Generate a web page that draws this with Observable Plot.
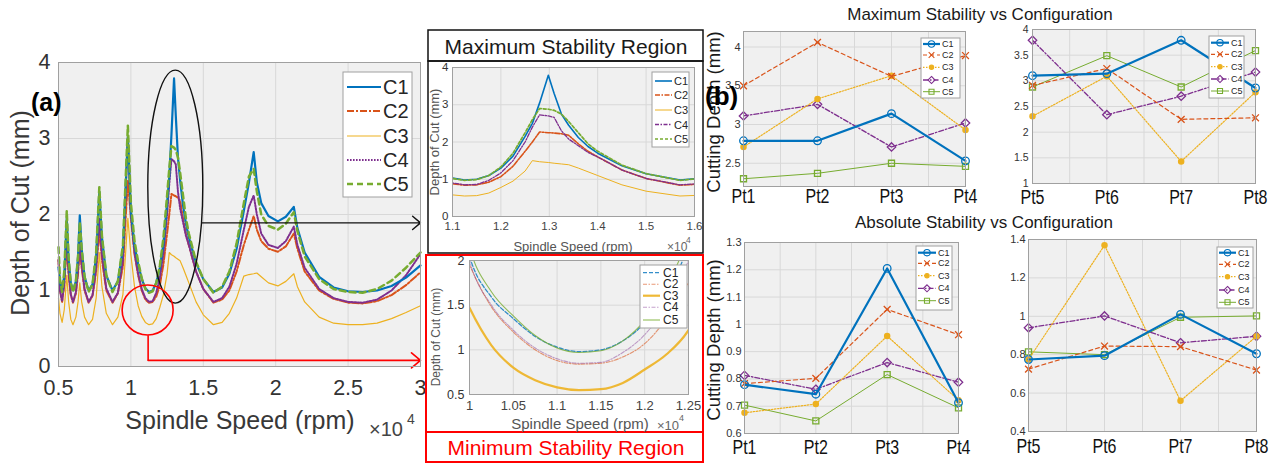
<!DOCTYPE html>
<html><head><meta charset="utf-8">
<script src="https://cdn.jsdelivr.net/npm/d3@7"></script>
<script src="https://cdn.jsdelivr.net/npm/@observablehq/plot@0.6"></script>
<style>
body{margin:0;background:#fff;}
#root{position:relative;width:1276px;height:466px;overflow:hidden;background:#fff;}
</style></head><body><div id="root"></div>
<script>
// ---------- DATA ----------
const configs = ["C1","C2","C3","C4","C5"];
const colors = ["#0072BD","#D95319","#EDB120","#7E2F8E","#77AC30"];
// spindle speed (rpm)
const spindleSpeed = [5000,5100,5250,5400,5570,5700,5850,6000,6200,6350,6470,6600,6800,7080,7350,7600,7820,8000,8300,8730,9100,9450,9790,10000,10250,10500,10750,11000,11250,11500,11750,12000,12250,12500,12650,12800,12980,13100,13250,13400,13600,13800,14000,14500,15000,15700,16300,16800,17300,17800,18150,18480,18700,19000,19500,20150,20700,21250,21500,22000,23000,24000,25000,26000,27000,28000,29000,30000];
// depth of cut (mm)
const depthC1 = [1.3,1.12,1.0,1.2,1.95,1.4,1.1,1.0,1.12,1.45,1.99,1.55,1.18,1.0,1.08,1.45,2.3,1.7,1.2,1.0,1.12,1.55,3.02,2.05,1.59,1.35,1.15,1.03,0.98,1.0,1.1,1.3,1.62,2.15,2.5,3.05,3.79,3.3,2.75,2.45,2.12,1.88,1.7,1.36,1.15,0.98,1.04,1.22,1.55,2.05,2.42,2.82,2.42,2.15,1.98,1.91,1.97,2.1,1.82,1.5,1.18,1.04,0.99,0.98,1.0,1.06,1.17,1.33];
const depthC2 = [1.4,1.0,0.85,1.08,1.6,1.2,0.94,0.84,0.96,1.22,1.55,1.3,1.0,0.84,0.93,1.25,1.8,1.4,1.0,0.84,0.96,1.32,2.45,1.95,1.48,1.2,1.0,0.88,0.84,0.85,0.92,1.07,1.35,1.75,2.0,2.27,2.25,2.24,2.22,2.18,1.95,1.75,1.6,1.25,1.02,0.84,0.88,1.0,1.25,1.6,1.8,1.98,1.8,1.65,1.55,1.51,1.58,1.75,1.55,1.25,1.0,0.89,0.84,0.83,0.86,0.94,1.07,1.24];
const depthC3 = [0.9,0.7,0.58,0.75,1.2,0.85,0.62,0.55,0.65,0.85,1.1,0.85,0.65,0.55,0.62,0.9,1.5,1.05,0.7,0.55,0.65,0.95,1.95,1.47,1.05,0.8,0.66,0.58,0.55,0.56,0.63,0.78,0.95,1.22,1.5,1.47,1.45,1.43,1.41,1.39,1.3,1.2,1.1,0.85,0.68,0.55,0.58,0.7,0.9,1.19,1.21,1.22,1.23,1.18,1.1,1.06,1.12,1.22,1.05,0.85,0.65,0.57,0.55,0.55,0.57,0.63,0.71,0.8];
const depthC4 = [1.4,1.0,0.86,1.1,1.75,1.25,0.95,0.85,0.98,1.28,1.65,1.35,1.02,0.85,0.94,1.3,1.95,1.48,1.03,0.85,0.97,1.4,3.02,2.0,1.5,1.22,1.02,0.9,0.85,0.86,0.97,1.17,1.5,2.0,2.4,2.73,2.7,2.66,2.3,2.08,1.9,1.72,1.6,1.25,1.02,0.85,0.9,1.05,1.35,1.8,2.1,2.25,2.0,1.75,1.6,1.56,1.65,1.84,1.6,1.3,1.02,0.9,0.85,0.84,0.88,1.0,1.2,1.48];
const depthC5 = [1.57,1.15,0.98,1.25,2.05,1.42,1.1,0.98,1.12,1.45,1.9,1.55,1.18,0.98,1.08,1.5,2.36,1.72,1.2,0.98,1.12,1.6,3.17,2.15,1.65,1.38,1.16,1.02,0.97,0.99,1.1,1.33,1.7,2.25,2.6,2.9,2.88,2.85,2.75,2.55,2.25,1.95,1.75,1.38,1.15,0.97,1.05,1.25,1.62,2.15,2.5,2.6,2.3,2.0,1.85,1.8,1.88,2.03,1.78,1.45,1.15,1.02,0.98,0.97,1.02,1.13,1.3,1.5];

// panel (b) categories
const pointsA = ["Pt1","Pt2","Pt3","Pt4"];
const pointsB = ["Pt5","Pt6","Pt7","Pt8"];
// Maximum stability (mm)
const maxA_C1 = [2.79,2.79,3.14,2.53];
const maxA_C2 = [3.50,4.06,3.62,3.89];
const maxA_C3 = [2.71,3.33,3.63,2.93];
const maxA_C4 = [3.11,3.26,2.71,3.02];
const maxA_C5 = [2.30,2.37,2.50,2.46];
const maxB_C1 = [3.10,3.14,3.79,2.86];
const maxB_C2 = [2.91,3.24,2.25,2.28];
const maxB_C3 = [2.31,3.09,1.43,2.78];
const maxB_C4 = [3.79,2.34,2.70,3.17];
const maxB_C5 = [2.88,3.49,2.88,3.59];
// Absolute stability (mm)
const absA_C1 = [0.779,0.744,1.205,0.713];
const absA_C2 = [0.783,0.802,1.055,0.962];
const absA_C3 = [0.676,0.708,0.957,0.722];
const absA_C4 = [0.813,0.762,0.860,0.788];
const absA_C5 = [0.704,0.646,0.816,0.694];
const absB_C1 = [0.775,0.795,1.010,0.805];
const absB_C2 = [0.725,0.845,0.842,0.720];
const absB_C3 = [0.775,1.370,0.560,0.896];
const absB_C4 = [0.940,1.002,0.862,0.896];
const absB_C5 = [0.815,0.800,0.995,1.002];

// tick values
const mainXTicks = [5000,10000,15000,20000,25000,30000];
const mainYTicks = [0,1,2,3,4];
const maxRegXTicks = [11000,12000,13000,14000,15000,16000];
const maxRegYTicks = [0,1,2,3,4];
const minRegXTicks = [10000,10500,11000,11500,12000,12500];
const minRegYTicks = [0.5,1,1.5,2];
const b1YTicks = [2.5,3,3.5,4];
const b2YTicks = [1,1.5,2,2.5,3,3.5,4];
const b3YTicks = [0.6,0.7,0.8,0.9,1,1.1,1.2,1.3];
const b4YTicks = [0.4,0.6,0.8,1,1.2,1.4];

// ---------- RENDER ----------
const W = 1276, H = 466;
const root = document.getElementById("root");
const fontFam = "'Liberation Sans', Arial, Helvetica, sans-serif";
const depths = [depthC1, depthC2, depthC3, depthC4, depthC5];
const curveData = depths.map((vals, i) => spindleSpeed.map((s, j) => ({s, d: vals[j], c: configs[i]})));

function makePlot(f, o) {
  const p = Plot.plot({
    width: W, height: H,
    marginLeft: f[0], marginRight: W - f[1], marginTop: f[2], marginBottom: H - f[3],
    style: {background: "transparent", fontFamily: fontFam, color: "#333", overflow: "visible"},
    x: {domain: o.xd}, y: {domain: o.yd},
    marks: [
      Plot.frame({fill: "#f0f0f0", stroke: "none"}),
      Plot.gridX({ticks: o.xg, stroke: "#d8d8d8", strokeOpacity: 1}),
      Plot.gridY({ticks: o.yg, stroke: "#d8d8d8", strokeOpacity: 1}),
      ...o.marks,
      Plot.frame({stroke: "#a0a0a0", fill: "none"}),
      Plot.axisX({ticks: o.xt, tickFormat: o.xf, tickSize: 0, tickPadding: o.xp, fontSize: o.xfs, label: null, fill: o.xc || "#333"}),
      Plot.axisY({ticks: o.yt, tickFormat: d => `${d}`, tickSize: 0, tickPadding: o.yp, fontSize: o.yfs, label: null, fill: "#333"})
    ]
  });
  p.style.position = "absolute"; p.style.left = "0"; p.style.top = "0";
  root.appendChild(p);
  if (o.xLen) {
    // condensed category labels, as in the reference
    d3.select(p).selectAll('g[aria-label="x-axis tick label"] text')
      .attr("textLength", o.xLen).attr("lengthAdjust", "spacingAndGlyphs");
  }
  return p;
}

// styles of curves in each view
const mainSt = [
  {w: 2.2, dash: null}, {w: 2, dash: "7,2,2,2"}, {w: 1.2, dash: null}, {w: 2, dash: "1.6,1.4"}, {w: 2.5, dash: "6,4"}];
const maxSt = [
  {w: 1.6, dash: null}, {w: 1.6, dash: "5,1.5,1.5,1.5"}, {w: 1, dash: null}, {w: 1.3, dash: "4,1.5,1.5,1.5"}, {w: 1.7, dash: "3,2"}];
const minSt = [
  {w: 1.3, dash: "4,2", op: 0.8}, {w: 1.1, dash: "4,1.5,1.5,1.5", op: 0.6}, {w: 2.2, dash: null, op: 0.9}, {w: 1.1, dash: "4,1.5,1.5,1.5", op: 0.45}, {w: 1.1, dash: null, op: 0.8}];
const drawOrder = [2, 1, 3, 0, 4];

function curveMarks(st, clip, curve) {
  return drawOrder.map(i => Plot.line(curveData[i], {
    x: "s", y: "d", stroke: colors[i], strokeWidth: st[i].w, curve: curve || "linear",
    strokeDasharray: st[i].dash || undefined, strokeOpacity: st[i].op || 1, clip: clip
  }));
}
const fmt4 = d => `${d / 1e4}`;

// (a) full stability lobe diagram
makePlot([58, 420, 62, 366], {
  xd: [5000, 30000], yd: [0, 4],
  xg: mainXTicks, yg: mainYTicks, xt: mainXTicks, yt: mainYTicks, xf: fmt4,
  xp: 13, xfs: 21.5, yp: 8, yfs: 21.5,
  marks: [
    ...curveMarks(mainSt, false),
    Plot.arrow([{x1: 14930, y1: 1.89, x2: 30000, y2: 1.89}], {x1: "x1", y1: "y1", x2: "x2", y2: "y2", stroke: "#111", strokeWidth: 1.4, headLength: 11, headAngle: 80}),
    Plot.link([{x1: 11190, y1: 0.41, x2: 11190, y2: 0.08}], {x1: "x1", y1: "y1", x2: "x2", y2: "y2", stroke: "#f00", strokeWidth: 1.6}),
    Plot.arrow([{x1: 11190, y1: 0.08, x2: 30000, y2: 0.08}], {x1: "x1", y1: "y1", x2: "x2", y2: "y2", stroke: "#f00", strokeWidth: 1.6, headLength: 11, headAngle: 80})
  ]
});

// maximum stability region zoom
makePlot([452, 694, 67, 216], {
  xd: [11000, 16000], yd: [0, 4],
  xg: maxRegXTicks, yg: maxRegYTicks, xt: maxRegXTicks, yt: maxRegYTicks, xf: fmt4,
  xp: 5, xfs: 11.5, yp: 4, yfs: 11.5, xc: "#444",
  marks: curveMarks(maxSt, true)
});

// minimum stability region zoom
makePlot([469, 688, 260, 394], {
  xd: [10000, 12500], yd: [0.5, 2],
  xg: minRegXTicks, yg: minRegYTicks, xt: minRegXTicks, yt: minRegYTicks, xf: fmt4,
  xp: 6, xfs: 13, yp: 5, yfs: 12.5, xc: "#444",
  marks: curveMarks(minSt, true, "monotone-x")
});

// (b) panels
const bSt = [
  {w: 2.2, dash: null, sym: "circle", r: 3.8, fill: "none"},
  {w: 1.2, dash: "4,3", sym: "times", r: 3.2, fill: "none"},
  {w: 1.2, dash: "1.5,1.5", sym: "circle", r: 2.6, fill: colors[2]},
  {w: 1.3, dash: "5,2,1.5,2", sym: "diamond2", r: 3.8, fill: "none"},
  {w: 1, dash: null, sym: "square", r: 3.4, fill: "none"}];

function bMarks(series) {
  const out = [];
  [4, 3, 2, 1, 0].forEach(i => {
    const rows = series[i].map((v, j) => ({x: j + 1, y: v}));
    out.push(Plot.line(rows, {x: "x", y: "y", stroke: colors[i], strokeWidth: bSt[i].w, strokeDasharray: bSt[i].dash || undefined}));
    out.push(Plot.dot(rows, {x: "x", y: "y", stroke: colors[i], strokeWidth: 1.3, fill: bSt[i].fill, symbol: bSt[i].sym, r: bSt[i].r}));
  });
  return out;
}
const ptGrid = [1, 1.5, 2, 2.5, 3, 3.5, 4];
const ptTicks = [1, 2, 3, 4];
makePlot([743, 965, 31, 186], {
  xd: [1, 4], yd: [2.2, 4.2], xg: ptGrid, yg: b1YTicks, xt: ptTicks, yt: b1YTicks,
  xf: d => pointsA[d - 1], xp: 2, xfs: 20, yp: 3, yfs: 11, xc: "#111", xLen: 24,
  marks: bMarks([maxA_C1, maxA_C2, maxA_C3, maxA_C4, maxA_C5])
});
makePlot([1032, 1255, 29, 183], {
  xd: [1, 4], yd: [1, 4], xg: ptGrid, yg: b2YTicks, xt: ptTicks, yt: b2YTicks,
  xf: d => pointsB[d - 1], xp: 6, xfs: 20, yp: 4, yfs: 10.5, xc: "#111", xLen: 24,
  marks: bMarks([maxB_C1, maxB_C2, maxB_C3, maxB_C4, maxB_C5])
});
makePlot([744, 958, 242, 433], {
  xd: [1, 4], yd: [0.6, 1.3], xg: ptGrid, yg: b3YTicks, xt: ptTicks, yt: b3YTicks,
  xf: d => pointsA[d - 1], xp: 6, xfs: 21, yp: 3, yfs: 11, xc: "#111", xLen: 24,
  marks: bMarks([absA_C1, absA_C2, absA_C3, absA_C4, absA_C5])
});
makePlot([1028, 1256, 239, 431], {
  xd: [1, 4], yd: [0.4, 1.4], xg: ptGrid, yg: b4YTicks, xt: ptTicks, yt: b4YTicks,
  xf: d => pointsB[d - 1], xp: 7, xfs: 21, yp: 3, yfs: 11, xc: "#111", xLen: 24,
  marks: bMarks([absB_C1, absB_C2, absB_C3, absB_C4, absB_C5])
});

// ---------- OVERLAY: annotations, labels, legends ----------
const ov = d3.select(root).append("svg").attr("width", W).attr("height", H)
  .style("position", "absolute").style("left", 0).style("top", 0).style("font-family", fontFam);

function txt(x, y, s, {size = 12, anchor = "middle", fill = "#333", weight = "normal", rotate = 0} = {}) {
  const t = ov.append("text").attr("x", x).attr("y", y).attr("font-size", size).attr("text-anchor", anchor)
    .attr("dominant-baseline", "central").attr("fill", fill).attr("font-weight", weight).text(s);
  if (rotate) t.attr("transform", `rotate(${rotate},${x},${y})`);
  return t;
}
function rect(x0, y0, x1, y1, stroke, sw, fill = "none") {
  ov.append("rect").attr("x", x0).attr("y", y0).attr("width", x1 - x0).attr("height", y1 - y0)
    .attr("fill", fill).attr("stroke", stroke).attr("stroke-width", sw);
}

// ellipse & circle annotations on panel (a)
const ax = d3.scaleLinear([5000, 30000], [58, 420]);
const ay = d3.scaleLinear([0, 4], [366, 62]);
ov.append("ellipse").attr("cx", ax(13100)).attr("cy", ay(2.36)).attr("rx", 27.5).attr("ry", 116.5)
  .attr("fill", "none").attr("stroke", "#111").attr("stroke-width", 1.4);
ov.append("ellipse").attr("cx", ax(11190)).attr("cy", ay(0.737)).attr("rx", 25.5).attr("ry", 25)
  .attr("fill", "none").attr("stroke", "#f00").attr("stroke-width", 1.6);

// panel (a) text
txt(20, 213, "Depth of Cut (mm)", {size: 25, rotate: -90, fill: "#383838"});
txt(240, 420, "Spindle Speed (rpm)", {size: 25, fill: "#383838"});
txt(369, 429, "×10", {size: 20, anchor: "start", fill: "#444"});
txt(407, 419, "4", {size: 14, anchor: "start", fill: "#444"});
txt(31, 102, "(a)", {size: 25, anchor: "start", fill: "#000", weight: "bold"});

function legend(box, rowsY, x1, x2, tx, fs, st, withMarkers) {
  rect(box[0], box[1], box[2], box[3], "#a0a0a0", 1, "#fff");
  st.forEach((s, i) => {
    const y = rowsY[i];
    ov.append("line").attr("x1", x1).attr("x2", x2).attr("y1", y).attr("y2", y).attr("stroke", colors[i])
      .attr("stroke-width", s.w).attr("stroke-dasharray", s.dash || null).attr("stroke-opacity", s.op || 1);
    if (withMarkers) {
      const symMap = {circle: d3.symbolCircle, times: d3.symbolTimes, diamond2: d3.symbolDiamond2, square: d3.symbolSquare};
      ov.append("path").attr("d", d3.symbol(symMap[s.sym], Math.PI * s.r * s.r * 0.7)())
        .attr("transform", `translate(${(x1 + x2) / 2},${y})`).attr("fill", s.fill).attr("stroke", colors[i]).attr("stroke-width", 1.1);
    }
    txt(tx, y, configs[i], {size: fs, anchor: "start", fill: "#262626"});
  });
}
legend([343, 72, 412, 197], [87, 111, 136, 160, 184], 347, 381, 383, 20, mainSt, false);

// maximum stability region box
rect(428, 30, 703, 61, "#111", 1.5, "#fff");
txt(566, 46, "Maximum Stability Region", {size: 21, fill: "#1a1a1a"});
rect(428, 61, 703, 253, "#111", 1.5);
txt(434, 142, "Depth of Cut (mm)", {size: 13, rotate: -90, fill: "#555"});
txt(573, 246, "Spindle Speed (rpm)", {size: 13, fill: "#555"});
txt(667, 247, "×10", {size: 12, anchor: "start", fill: "#666"});
txt(686, 240, "4", {size: 8.5, anchor: "start", fill: "#666"});
legend([652, 72, 689, 147], [81, 95, 110, 124.5, 139], 655, 672, 674, 11, maxSt, false);

// minimum stability region box
rect(426, 255, 703, 432, "#f00", 2);
rect(426, 432, 703, 462, "#f00", 2, "#fff");
txt(566, 447, "Minimum Stability Region", {size: 21, fill: "#f00"});
txt(436, 337, "Depth of Cut (mm)", {size: 12, rotate: -90, fill: "#555"});
txt(580, 423, "Spindle Speed (rpm)", {size: 15, fill: "#555"});
txt(657, 425, "×10", {size: 13, anchor: "start", fill: "#666"});
txt(679, 418, "4", {size: 9, anchor: "start", fill: "#666"});
legend([640, 265, 687, 328], [272.7, 284.3, 295.7, 307.3, 320], 643, 660, 663, 12, minSt, false);

// panel (b) text
txt(980, 14, "Maximum Stability vs Configuration", {size: 17, fill: "#1a1a1a"});
txt(984, 222, "Absolute Stability vs Configuration", {size: 17, fill: "#1a1a1a"});
txt(713, 112, "Cutting Depth (mm)", {size: 18.5, rotate: -90, fill: "#1a1a1a"});
txt(713, 340, "Cutting Depth (mm)", {size: 18.5, rotate: -90, fill: "#1a1a1a"});
txt(705, 96, "(b)", {size: 26, anchor: "start", fill: "#000", weight: "bold"});
legend([921, 38, 960, 98], [44, 55, 67.3, 80, 91.7], 923, 940, 942, 9, bSt, true);
legend([1209, 36, 1244, 98], [42.7, 54.3, 66.7, 79, 91], 1211, 1229, 1231, 9, bSt, true);
legend([916, 246, 952, 310], [252.7, 263.3, 275.7, 288.3, 300.7], 918, 936, 938, 9, bSt, true);
legend([1217, 247, 1253, 308], [252.7, 264.3, 276.7, 290, 302.3], 1219, 1236, 1238, 9, bSt, true);
</script></body></html>
